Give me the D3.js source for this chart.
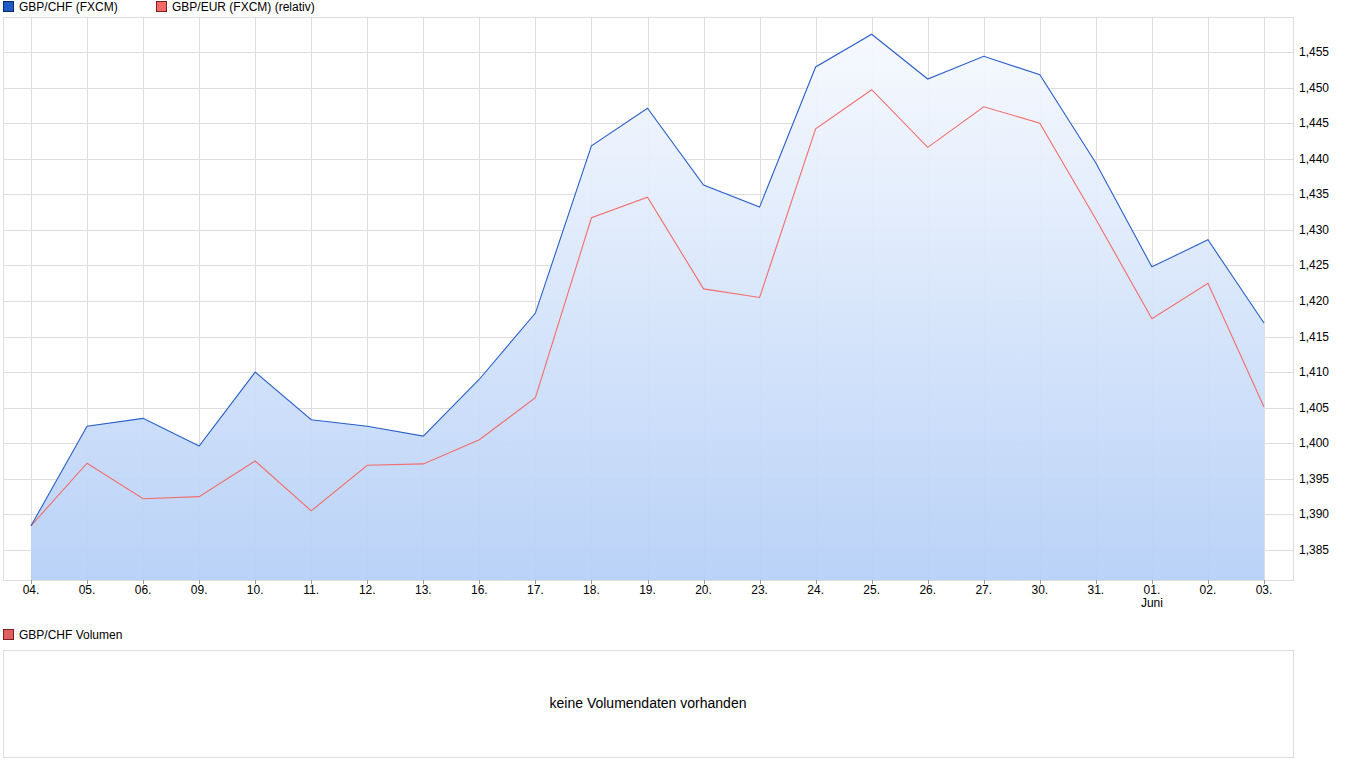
<!DOCTYPE html>
<html><head><meta charset="utf-8">
<script src="https://cdn.jsdelivr.net/npm/d3@7"></script>
<style>body{margin:0;background:#fff;font-family:"Liberation Sans",Arial,sans-serif;font-size:12px}</style>
</head><body><div id="chart"></div>
<script>
var days = ["04.","05.","06.","09.","10.","11.","12.","13.","16.","17.","18.","19.","20.","23.","24.","25.","26.","27.","30.","31.","01.","02.","03."];
var chf = [1.3884,1.4024,1.4035,1.3996,1.4100,1.4033,1.4024,1.4010,1.4090,1.4183,1.4418,1.4471,1.4363,1.4332,1.4529,1.4575,1.4512,1.4544,1.4518,1.4394,1.4248,1.4286,1.4169];
var eur = [1.3884,1.3972,1.3922,1.3925,1.3975,1.3905,1.3969,1.3971,1.4005,1.4064,1.4317,1.4346,1.4217,1.4205,1.4442,1.4497,1.4416,1.4473,1.4450,1.4315,1.4175,1.4225,1.4051];
var yTicks = [1.385,1.39,1.395,1.40,1.405,1.41,1.415,1.42,1.425,1.43,1.435,1.44,1.445,1.45,1.455];

var W = 1350, H = 772, L = 3, R = 1293, T = 17, B = 580;
var svg = d3.select("#chart").append("svg").attr("width", W).attr("height", H);
var defs = svg.append("defs");
var g = defs.append("linearGradient").attr("id","fill").attr("x1",0).attr("y1",0).attr("x2",0).attr("y2",1);
g.append("stop").attr("offset","0").attr("stop-color","#f6f9fe");
g.append("stop").attr("offset","1").attr("stop-color","#b6d0f7");

var x = d3.scalePoint().domain(days.map(function(d,i){return i;})).range([31, 1264]);
var y = d3.scaleLinear().domain([1.38078, 1.45992]).range([B, T]);

svg.append("rect").attr("x",L+0.5).attr("y",T+0.5).attr("width",R-L).attr("height",B-T).attr("fill","none").attr("stroke","#ddd");
svg.selectAll(".hg").data(yTicks).enter().append("line")
  .attr("x1",L).attr("x2",R).attr("y1",function(d){return Math.round(y(d))+0.5;}).attr("y2",function(d){return Math.round(y(d))+0.5;}).attr("stroke","#ddd");
svg.selectAll(".vg").data(days).enter().append("line")
  .attr("y1",T).attr("y2",B).attr("x1",function(d,i){return Math.round(x(i))+0.5;}).attr("x2",function(d,i){return Math.round(x(i))+0.5;}).attr("stroke","#ddd");

var area = d3.area().x(function(d,i){return x(i);}).y0(B).y1(function(d){return y(d);});
svg.append("path").datum(chf).attr("d",area).attr("fill","url(#fill)").attr("opacity",0.95);
var line = d3.line().x(function(d,i){return x(i);}).y(function(d){return y(d);});
svg.append("path").datum(eur).attr("d",line).attr("fill","none").attr("stroke","#f26d6d").attr("stroke-width",1.1);
svg.append("path").datum(chf).attr("d",line).attr("fill","none").attr("stroke","#2a5fc9").attr("stroke-width",1.1);

svg.selectAll(".yl").data(yTicks).enter().append("text")
  .attr("x",1299).attr("y",function(d){return y(d)+4;})
  .text(function(d){return d3.format(".3f")(d).replace(".",",");});
svg.selectAll(".xl").data(days).enter().append("text")
  .attr("x",function(d,i){return x(i);}).attr("y",594).attr("text-anchor","middle").text(function(d){return d;});
svg.selectAll(".xt").data(days).enter().append("line")
  .attr("x1",function(d,i){return Math.round(x(i))+0.5;}).attr("x2",function(d,i){return Math.round(x(i))+0.5;})
  .attr("y1",B).attr("y2",B+4).attr("stroke","#999");
svg.append("text").attr("x",x(20)).attr("y",607).attr("text-anchor","middle").text("Juni");

function legend(lx, ly, color, border, label){
  svg.append("rect").attr("x",lx+0.5).attr("y",ly+0.5).attr("width",10).attr("height",10).attr("fill",color).attr("stroke",border);
  svg.append("text").attr("x",lx+16).attr("y",ly+10).text(label);
}
legend(3, 1, "#1f5bc4", "#0b2a66", "GBP/CHF (FXCM)");
legend(156, 1, "#f56868", "#7a2020", "GBP/EUR (FXCM) (relativ)");
legend(3, 629, "#e06060", "#7a2020", "GBP/CHF Volumen");

svg.append("rect").attr("x",L+0.5).attr("y",650.5).attr("width",R-L).attr("height",107).attr("fill","none").attr("stroke","#ddd");
svg.append("text").attr("x",648).attr("y",708).attr("text-anchor","middle").style("font-size","14px").text("keine Volumendaten vorhanden");
</script></body></html>
